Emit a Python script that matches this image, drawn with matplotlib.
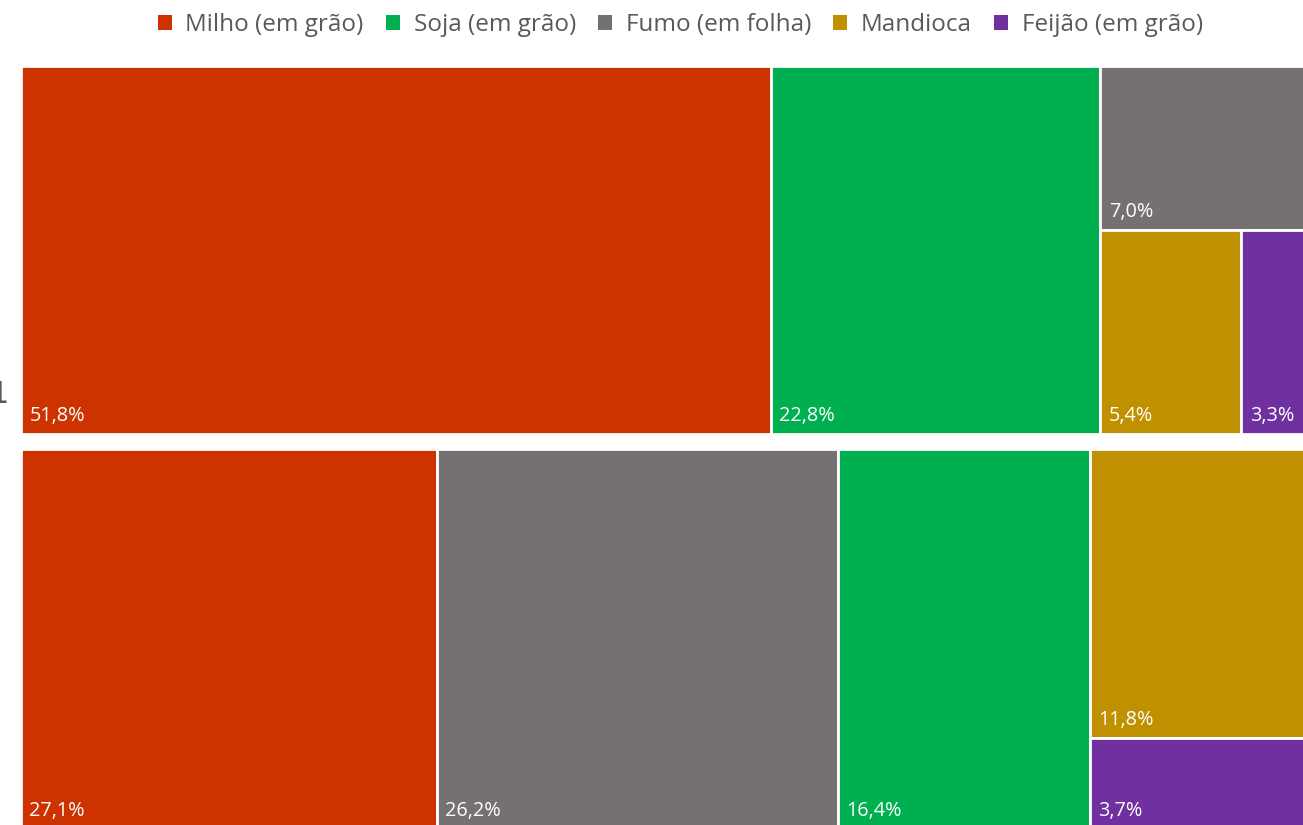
import matplotlib.pyplot as plt
from matplotlib.patches import Rectangle

plt.rcParams['font.family'] = ['Open Sans', 'DejaVu Sans']

# data
crops = ['Milho (em grão)', 'Soja (em grão)', 'Fumo (em folha)', 'Mandioca', 'Feijão (em grão)']
colors = ['#CC3300', '#00B050', '#767171', '#BF9000', '#7030A0']
top_values = [51.8, 22.8, 7.0, 5.4, 3.3]
bottom_values = [27.1, 16.4, 26.2, 11.8, 3.7]
group_label = '1'

# treemap arrangement: columns -> rows -> crop index
top_layout = [[[0]], [[1]], [[2], [3, 4]]]
bottom_layout = [[[0]], [[2]], [[1]], [[3], [4]]]


def draw_group(ax, values, layout):
    x = 0.0
    for col in layout:
        col_w = sum(values[i] for row in col for i in row)
        y = 1.0
        for row in col:
            row_sum = sum(values[i] for i in row)
            h = row_sum / col_w
            y -= h
            xx = x
            for i in row:
                w = col_w * values[i] / row_sum
                ax.add_patch(Rectangle((xx, y), w, h, facecolor=colors[i],
                                       edgecolor='white', linewidth=2.0))
                ax.annotate(f'{values[i]:.1f}%'.replace('.', ','), (xx, y),
                            xytext=(6, 9.5), textcoords='offset points',
                            color='white', fontsize=14.3, va='baseline', ha='left')
                xx += w
        x += col_w


W, H = 1303, 825
fig = plt.figure(figsize=(W / 100, H / 100), dpi=100)

ax1 = fig.add_axes([21 / W, 1 - 434 / H, 1 - 21 / W, 368 / H])
draw_group(ax1, top_values, top_layout)
ax1.set_xlim(0, 88.6)
ax1.set_ylim(0, 1)
ax1.axis('off')

ax2 = fig.add_axes([21 / W, 1 - 829 / H, 1 - 21 / W, 380 / H])
draw_group(ax2, bottom_values, bottom_layout)
ax2.set_xlim(0, 83.6)
ax2.set_ylim(0, 1)
ax2.axis('off')

# group label, cut by the left edge as in the source image
fig.text(9 / W, 1 - 403 / H, group_label, ha='right', va='baseline',
         fontsize=22, color='#595959', family='DejaVu Sans')

handles = [Rectangle((0, 0), 1, 1, facecolor=c) for c in colors]
fig.legend(handles, crops, loc='center', bbox_to_anchor=(0.522, 1 - 25 / H),
           ncol=5, frameon=False, fontsize=17.5, labelcolor='#595959',
           handlelength=0.6, handleheight=0.6, handletextpad=0.55,
           columnspacing=0.9)

fig.savefig('out.png', dpi=100)
